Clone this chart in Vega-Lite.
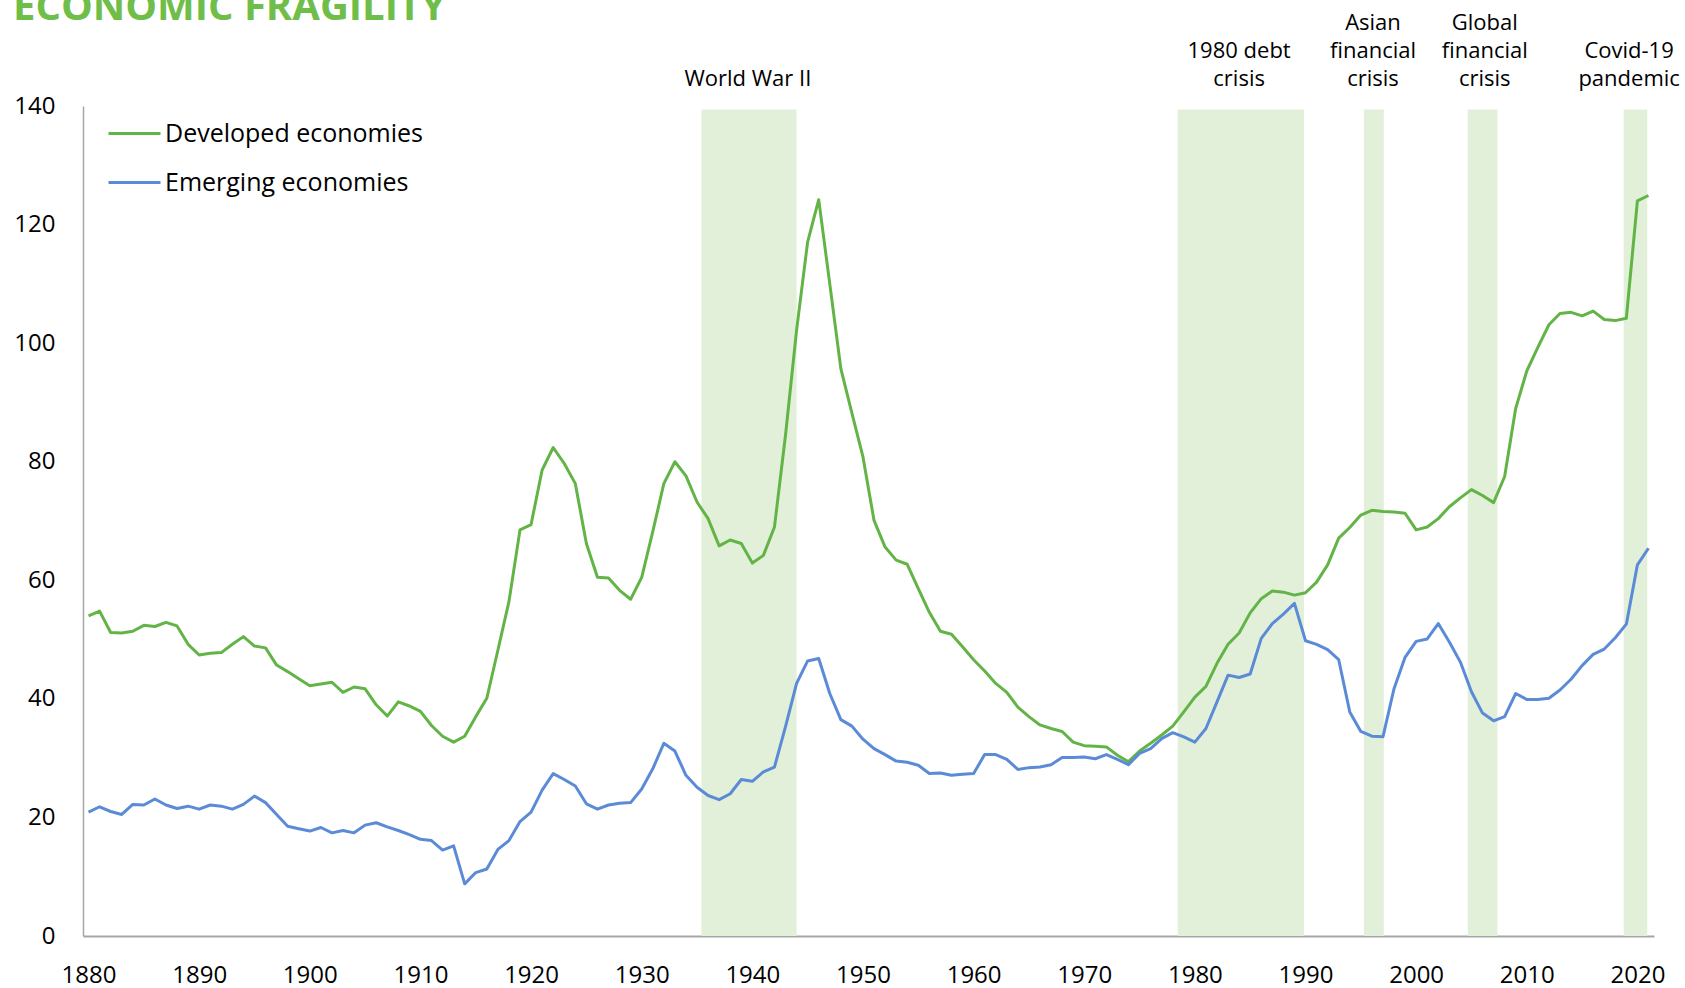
{
  "$schema": "https://vega.github.io/schema/vega-lite/v6.json",
  "width": 1571,
  "height": 830,
  "autosize": {"type": "none"},
  "padding": {"left": 83, "top": 106, "right": 31, "bottom": 52},
  "background": "white",
  "title": {
    "text": "ECONOMIC FRAGILITY",
    "anchor": "start",
    "frame": "group",
    "font": "Open Sans",
    "fontSize": 40,
    "fontWeight": "bold",
    "color": "#6FBE4A",
    "dx": -70,
    "offset": -16
  },
  "datasets": {
    "events": [
      {"event": "World War II", "start": 1935.4, "end": 1944.0, "center": 1939.6, "label": ["World War II"]},
      {"event": "1980 debt crisis", "start": 1978.45, "end": 1989.86, "center": 1984.0, "label": ["1980 debt", "crisis"]},
      {"event": "Asian financial crisis", "start": 1995.27, "end": 1997.08, "center": 1996.1, "label": ["Asian", "financial", "crisis"]},
      {"event": "Global financial crisis", "start": 2004.66, "end": 2007.35, "center": 2006.2, "label": ["Global", "financial", "crisis"]},
      {"event": "Covid-19 pandemic", "start": 2018.76, "end": 2020.89, "center": 2019.25, "label": ["Covid-19", "pandemic"]}
    ],
    "debt": [
      {"year": 1880, "Developed economies": 54.0, "Emerging economies": 20.9},
      {"year": 1881, "Developed economies": 54.8, "Emerging economies": 21.8},
      {"year": 1882, "Developed economies": 51.2, "Emerging economies": 21.0},
      {"year": 1883, "Developed economies": 51.1, "Emerging economies": 20.5},
      {"year": 1884, "Developed economies": 51.4, "Emerging economies": 22.2},
      {"year": 1885, "Developed economies": 52.4, "Emerging economies": 22.1},
      {"year": 1886, "Developed economies": 52.2, "Emerging economies": 23.1},
      {"year": 1887, "Developed economies": 52.9, "Emerging economies": 22.1},
      {"year": 1888, "Developed economies": 52.3, "Emerging economies": 21.5},
      {"year": 1889, "Developed economies": 49.2, "Emerging economies": 21.9},
      {"year": 1890, "Developed economies": 47.4, "Emerging economies": 21.4},
      {"year": 1891, "Developed economies": 47.7, "Emerging economies": 22.1},
      {"year": 1892, "Developed economies": 47.8, "Emerging economies": 21.9},
      {"year": 1893, "Developed economies": 49.2, "Emerging economies": 21.4},
      {"year": 1894, "Developed economies": 50.5, "Emerging economies": 22.2},
      {"year": 1895, "Developed economies": 48.9, "Emerging economies": 23.6},
      {"year": 1896, "Developed economies": 48.6, "Emerging economies": 22.5},
      {"year": 1897, "Developed economies": 45.7, "Emerging economies": 20.5},
      {"year": 1898, "Developed economies": 44.6, "Emerging economies": 18.5},
      {"year": 1899, "Developed economies": 43.4, "Emerging economies": 18.1},
      {"year": 1900, "Developed economies": 42.2, "Emerging economies": 17.7},
      {"year": 1901, "Developed economies": 42.5, "Emerging economies": 18.3},
      {"year": 1902, "Developed economies": 42.8, "Emerging economies": 17.4},
      {"year": 1903, "Developed economies": 41.1, "Emerging economies": 17.8},
      {"year": 1904, "Developed economies": 42.0, "Emerging economies": 17.4},
      {"year": 1905, "Developed economies": 41.7, "Emerging economies": 18.7},
      {"year": 1906, "Developed economies": 39.0, "Emerging economies": 19.1},
      {"year": 1907, "Developed economies": 37.1, "Emerging economies": 18.4},
      {"year": 1908, "Developed economies": 39.5, "Emerging economies": 17.8},
      {"year": 1909, "Developed economies": 38.8, "Emerging economies": 17.1},
      {"year": 1910, "Developed economies": 37.9, "Emerging economies": 16.3},
      {"year": 1911, "Developed economies": 35.5, "Emerging economies": 16.1},
      {"year": 1912, "Developed economies": 33.7, "Emerging economies": 14.5},
      {"year": 1913, "Developed economies": 32.7, "Emerging economies": 15.2},
      {"year": 1914, "Developed economies": 33.7, "Emerging economies": 8.8},
      {"year": 1915, "Developed economies": 37.0, "Emerging economies": 10.7},
      {"year": 1916, "Developed economies": 40.1, "Emerging economies": 11.3},
      {"year": 1917, "Developed economies": 48.2, "Emerging economies": 14.6},
      {"year": 1918, "Developed economies": 56.4, "Emerging economies": 16.1},
      {"year": 1919, "Developed economies": 68.5, "Emerging economies": 19.3},
      {"year": 1920, "Developed economies": 69.4, "Emerging economies": 20.9},
      {"year": 1921, "Developed economies": 78.6, "Emerging economies": 24.6},
      {"year": 1922, "Developed economies": 82.4, "Emerging economies": 27.4},
      {"year": 1923, "Developed economies": 79.7, "Emerging economies": 26.4},
      {"year": 1924, "Developed economies": 76.3, "Emerging economies": 25.3},
      {"year": 1925, "Developed economies": 66.2, "Emerging economies": 22.3},
      {"year": 1926, "Developed economies": 60.5, "Emerging economies": 21.4},
      {"year": 1927, "Developed economies": 60.4, "Emerging economies": 22.1},
      {"year": 1928, "Developed economies": 58.3, "Emerging economies": 22.4},
      {"year": 1929, "Developed economies": 56.8, "Emerging economies": 22.5},
      {"year": 1930, "Developed economies": 60.5, "Emerging economies": 24.8},
      {"year": 1931, "Developed economies": 68.2, "Emerging economies": 28.2},
      {"year": 1932, "Developed economies": 76.3, "Emerging economies": 32.5},
      {"year": 1933, "Developed economies": 80.0, "Emerging economies": 31.2},
      {"year": 1934, "Developed economies": 77.6, "Emerging economies": 27.1},
      {"year": 1935, "Developed economies": 73.2, "Emerging economies": 25.1},
      {"year": 1936, "Developed economies": 70.4, "Emerging economies": 23.7},
      {"year": 1937, "Developed economies": 65.8, "Emerging economies": 23.0},
      {"year": 1938, "Developed economies": 66.8, "Emerging economies": 24.0},
      {"year": 1939, "Developed economies": 66.2, "Emerging economies": 26.4},
      {"year": 1940, "Developed economies": 62.9, "Emerging economies": 26.1},
      {"year": 1941, "Developed economies": 64.2, "Emerging economies": 27.7},
      {"year": 1942, "Developed economies": 69.0, "Emerging economies": 28.5},
      {"year": 1943, "Developed economies": 84.5, "Emerging economies": 35.3},
      {"year": 1944, "Developed economies": 102.2, "Emerging economies": 42.6},
      {"year": 1945, "Developed economies": 117.1, "Emerging economies": 46.4},
      {"year": 1946, "Developed economies": 124.2, "Emerging economies": 46.8},
      {"year": 1947, "Developed economies": 110.0, "Emerging economies": 40.9},
      {"year": 1948, "Developed economies": 95.7, "Emerging economies": 36.5},
      {"year": 1949, "Developed economies": 88.2, "Emerging economies": 35.4},
      {"year": 1950, "Developed economies": 80.8, "Emerging economies": 33.2},
      {"year": 1951, "Developed economies": 70.1, "Emerging economies": 31.6},
      {"year": 1952, "Developed economies": 65.6, "Emerging economies": 30.6},
      {"year": 1953, "Developed economies": 63.4, "Emerging economies": 29.5},
      {"year": 1954, "Developed economies": 62.7, "Emerging economies": 29.3},
      {"year": 1955, "Developed economies": 58.6, "Emerging economies": 28.8},
      {"year": 1956, "Developed economies": 54.6, "Emerging economies": 27.4},
      {"year": 1957, "Developed economies": 51.4, "Emerging economies": 27.5},
      {"year": 1958, "Developed economies": 50.9, "Emerging economies": 27.1},
      {"year": 1959, "Developed economies": 48.8, "Emerging economies": 27.3},
      {"year": 1960, "Developed economies": 46.6, "Emerging economies": 27.4},
      {"year": 1961, "Developed economies": 44.7, "Emerging economies": 30.6},
      {"year": 1962, "Developed economies": 42.6, "Emerging economies": 30.6},
      {"year": 1963, "Developed economies": 41.1, "Emerging economies": 29.8},
      {"year": 1964, "Developed economies": 38.6, "Emerging economies": 28.1},
      {"year": 1965, "Developed economies": 37.0, "Emerging economies": 28.4},
      {"year": 1966, "Developed economies": 35.6, "Emerging economies": 28.5},
      {"year": 1967, "Developed economies": 35.0, "Emerging economies": 28.9},
      {"year": 1968, "Developed economies": 34.5, "Emerging economies": 30.1},
      {"year": 1969, "Developed economies": 32.7, "Emerging economies": 30.1},
      {"year": 1970, "Developed economies": 32.1, "Emerging economies": 30.2},
      {"year": 1971, "Developed economies": 32.0, "Emerging economies": 29.9},
      {"year": 1972, "Developed economies": 31.9, "Emerging economies": 30.6},
      {"year": 1973, "Developed economies": 30.5, "Emerging economies": 29.8},
      {"year": 1974, "Developed economies": 29.4, "Emerging economies": 28.9},
      {"year": 1975, "Developed economies": 31.2, "Emerging economies": 30.8},
      {"year": 1976, "Developed economies": 32.5, "Emerging economies": 31.6},
      {"year": 1977, "Developed economies": 33.9, "Emerging economies": 33.3},
      {"year": 1978, "Developed economies": 35.4, "Emerging economies": 34.3},
      {"year": 1979, "Developed economies": 37.8, "Emerging economies": 33.6},
      {"year": 1980, "Developed economies": 40.3, "Emerging economies": 32.7},
      {"year": 1981, "Developed economies": 42.1, "Emerging economies": 35.0},
      {"year": 1982, "Developed economies": 46.0, "Emerging economies": 39.5},
      {"year": 1983, "Developed economies": 49.2, "Emerging economies": 44.0},
      {"year": 1984, "Developed economies": 51.1, "Emerging economies": 43.6},
      {"year": 1985, "Developed economies": 54.5, "Emerging economies": 44.2},
      {"year": 1986, "Developed economies": 56.9, "Emerging economies": 50.2},
      {"year": 1987, "Developed economies": 58.2, "Emerging economies": 52.7},
      {"year": 1988, "Developed economies": 58.0, "Emerging economies": 54.3},
      {"year": 1989, "Developed economies": 57.5, "Emerging economies": 56.1},
      {"year": 1990, "Developed economies": 57.9, "Emerging economies": 49.8},
      {"year": 1991, "Developed economies": 59.7, "Emerging economies": 49.2},
      {"year": 1992, "Developed economies": 62.6, "Emerging economies": 48.3},
      {"year": 1993, "Developed economies": 67.1, "Emerging economies": 46.6},
      {"year": 1994, "Developed economies": 68.9, "Emerging economies": 37.8},
      {"year": 1995, "Developed economies": 71.0, "Emerging economies": 34.5},
      {"year": 1996, "Developed economies": 71.8, "Emerging economies": 33.7},
      {"year": 1997, "Developed economies": 71.6, "Emerging economies": 33.6},
      {"year": 1998, "Developed economies": 71.5, "Emerging economies": 41.7},
      {"year": 1999, "Developed economies": 71.3, "Emerging economies": 47.0},
      {"year": 2000, "Developed economies": 68.5, "Emerging economies": 49.7},
      {"year": 2001, "Developed economies": 69.0, "Emerging economies": 50.1},
      {"year": 2002, "Developed economies": 70.4, "Emerging economies": 52.7},
      {"year": 2003, "Developed economies": 72.4, "Emerging economies": 49.6},
      {"year": 2004, "Developed economies": 73.9, "Emerging economies": 46.2},
      {"year": 2005, "Developed economies": 75.3, "Emerging economies": 41.2},
      {"year": 2006, "Developed economies": 74.3, "Emerging economies": 37.6},
      {"year": 2007, "Developed economies": 73.1, "Emerging economies": 36.3},
      {"year": 2008, "Developed economies": 77.5, "Emerging economies": 37.0},
      {"year": 2009, "Developed economies": 89.0, "Emerging economies": 40.9},
      {"year": 2010, "Developed economies": 95.3, "Emerging economies": 39.9},
      {"year": 2011, "Developed economies": 99.3, "Emerging economies": 39.9},
      {"year": 2012, "Developed economies": 103.1, "Emerging economies": 40.1},
      {"year": 2013, "Developed economies": 105.0, "Emerging economies": 41.5},
      {"year": 2014, "Developed economies": 105.2, "Emerging economies": 43.3},
      {"year": 2015, "Developed economies": 104.6, "Emerging economies": 45.6},
      {"year": 2016, "Developed economies": 105.4, "Emerging economies": 47.5},
      {"year": 2017, "Developed economies": 104.0, "Emerging economies": 48.4},
      {"year": 2018, "Developed economies": 103.8, "Emerging economies": 50.3},
      {"year": 2019, "Developed economies": 104.2, "Emerging economies": 52.6},
      {"year": 2020, "Developed economies": 124.0, "Emerging economies": 62.6},
      {"year": 2021, "Developed economies": 124.9, "Emerging economies": 65.4}
    ]
  },
  "layer": [
    {
      "data": {"name": "events"},
      "mark": {"type": "rect", "color": "#E2F0D9"},
      "encoding": {
        "x": {
          "field": "start", "type": "quantitative",
          "scale": {"domain": [1879.5, 2021.5], "nice": false, "zero": false},
          "axis": {"values": [1880, 1890, 1900, 1910, 1920, 1930, 1940, 1950, 1960, 1970, 1980, 1990, 2000, 2010, 2020], "format": "d", "labelFlush": false, "labelOverlap": false, "labelPadding": 27, "domainWidth": 2},
          "title": null
        },
        "x2": {"field": "end"},
        "y": {
          "datum": 139.4, "type": "quantitative",
          "scale": {"domain": [0, 140], "nice": false, "zero": true},
          "axis": {"values": [0, 20, 40, 60, 80, 100, 120, 140], "labelPadding": 28, "domainWidth": 1.5},
          "title": null
        },
        "y2": {"datum": 0}
      }
    },
    {
      "data": {"name": "debt"},
      "transform": [{"fold": ["Developed economies", "Emerging economies"], "as": ["series", "debt"]}],
      "mark": {"type": "line", "strokeWidth": 3, "strokeJoin": "round"},
      "encoding": {
        "x": {"field": "year", "type": "quantitative", "title": null},
        "y": {"field": "debt", "type": "quantitative", "title": null},
        "color": {
          "field": "series", "type": "nominal",
          "scale": {"domain": ["Developed economies", "Emerging economies"], "range": ["#63B446", "#5B8BD6"]},
          "legend": {
            "title": null,
            "orient": "none",
            "legendX": 24,
            "legendY": 0,
            "padding": 0,
            "symbolType": "stroke",
            "symbolSize": 2704,
            "symbolStrokeWidth": 3,
            "labelFont": "Open Sans",
            "labelFontSize": 25,
            "labelColor": "#000000",
            "labelOffset": 3,
            "rowPadding": 8,
            "labelLimit": 500
          }
        }
      }
    },
    {
      "data": {"name": "events"},
      "transform": [{"filter": {"field": "event", "oneOf": ["World War II"]}}],
      "mark": {"type": "text", "font": "Open Sans", "fontSize": 22, "color": "#000000", "align": "center", "baseline": "bottom", "lineHeight": 28},
      "encoding": {
        "x": {"field": "center", "type": "quantitative", "title": null},
        "y": {"datum": 142.5, "type": "quantitative"},
        "text": {"field": "label"}
      }
    },
    {
      "data": {"name": "events"},
      "transform": [{"filter": {"field": "event", "oneOf": ["1980 debt crisis", "Covid-19 pandemic"]}}],
      "mark": {"type": "text", "font": "Open Sans", "fontSize": 22, "color": "#000000", "align": "center", "baseline": "bottom", "lineHeight": 28},
      "encoding": {
        "x": {"field": "center", "type": "quantitative", "title": null},
        "y": {"datum": 147.22, "type": "quantitative"},
        "text": {"field": "label"}
      }
    },
    {
      "data": {"name": "events"},
      "transform": [{"filter": {"field": "event", "oneOf": ["Asian financial crisis", "Global financial crisis"]}}],
      "mark": {"type": "text", "font": "Open Sans", "fontSize": 22, "color": "#000000", "align": "center", "baseline": "bottom", "lineHeight": 28},
      "encoding": {
        "x": {"field": "center", "type": "quantitative", "title": null},
        "y": {"datum": 151.94, "type": "quantitative"},
        "text": {"field": "label"}
      }
    }
  ],
  "config": {
    "view": {"stroke": null},
    "font": "Open Sans",
    "axis": {
      "grid": false,
      "ticks": false,
      "tickSize": 0,
      "domainColor": "#A6A6A6",
      "labelFont": "Open Sans",
      "labelFontSize": 24,
      "labelColor": "#000000"
    }
  }
}
